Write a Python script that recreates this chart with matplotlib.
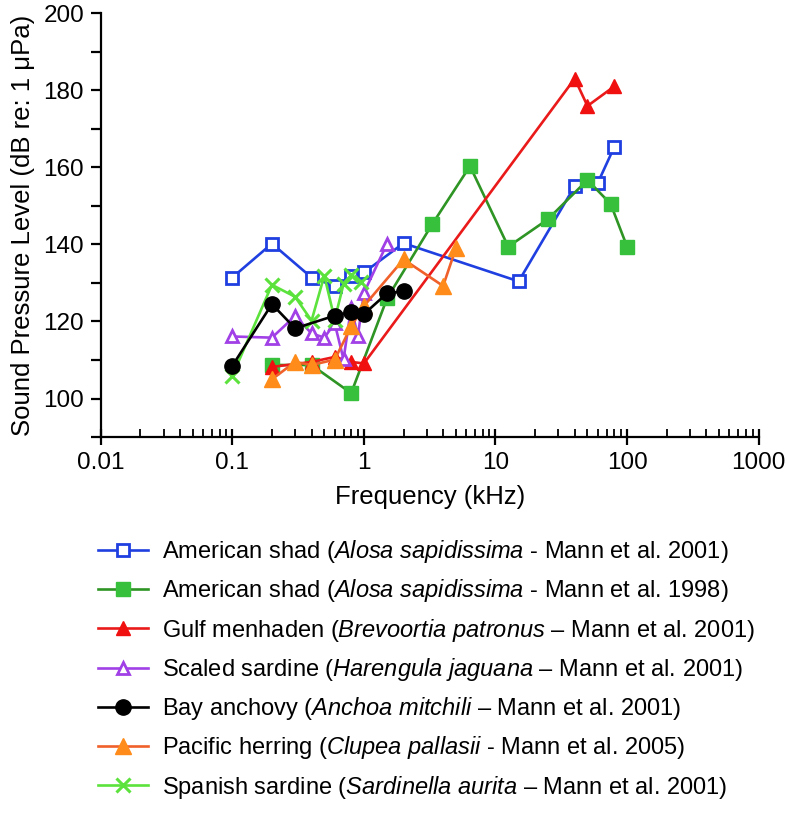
import matplotlib
matplotlib.use("Agg")
import matplotlib.pyplot as plt
from matplotlib.ticker import LogLocator, FixedLocator, NullFormatter, FuncFormatter

plt.rcParams['font.family'] = ['Liberation Sans', 'DejaVu Sans']
plt.rcParams['mathtext.fontset'] = 'custom'
plt.rcParams['mathtext.rm'] = 'Liberation Sans'
plt.rcParams['mathtext.it'] = 'Liberation Sans:italic'

# ---- data (frequency in kHz, SPL in dB re: 1 uPa) ----
shad01_x = [0.1, 0.2, 0.4, 0.6, 0.8, 1.0, 2.0, 15, 40, 60, 80]
shad01_y = [131.4, 140.2, 131.4, 129.2, 131.8, 132.7, 140.3, 130.4, 155.1, 156.0, 165.3]

shad98_x = [0.2, 0.4, 0.8, 1.5, 3.3, 6.4, 12.5, 25, 50, 75, 100]
shad98_y = [108.7, 108.7, 101.4, 126.0, 145.2, 160.3, 139.4, 146.5, 156.7, 150.5, 139.4]

menhaden_x = [0.2, 0.4, 0.6, 0.8, 1.0, 40, 50, 80]
menhaden_y = [108.2, 109.5, 110.8, 109.5, 109.1, 183.0, 175.9, 181.0]

scaled_x = [0.1, 0.2, 0.3, 0.4, 0.5, 0.6, 0.7, 0.8, 0.9, 1.0, 1.5]
scaled_y = [116.1, 115.8, 121.4, 116.9, 115.8, 119.5, 110.2, 123.6, 116.3, 127.4, 140.2]

anchovy_x = [0.1, 0.2, 0.3, 0.6, 0.8, 1.0, 1.5, 2.0]
anchovy_y = [108.5, 124.5, 118.2, 121.5, 122.5, 121.9, 127.3, 127.8]

herring_x = [0.2, 0.3, 0.4, 0.6, 0.8, 1.0, 2.0, 4.0, 5.0]
herring_y = [105.0, 109.5, 108.7, 110.1, 118.7, 124.0, 136.1, 129.2, 139.0]

spanish_x = [0.1, 0.2, 0.3, 0.4, 0.5, 0.6, 0.7, 0.8, 0.95]
spanish_y = [105.9, 129.5, 126.4, 120.2, 131.9, 120.5, 129.7, 132.0, 130.3]

labels = [
    r"American shad ($\mathit{Alosa\ sapidissima}$ - Mann et al. 2001)",
    r"American shad ($\mathit{Alosa\ sapidissima}$ - Mann et al. 1998)",
    r"Gulf menhaden ($\mathit{Brevoortia\ patronus}$ – Mann et al. 2001)",
    r"Scaled sardine ($\mathit{Harengula\ jaguana}$ – Mann et al. 2001)",
    r"Bay anchovy ($\mathit{Anchoa\ mitchili}$ – Mann et al. 2001)",
    r"Pacific herring ($\mathit{Clupea\ pallasii}$ - Mann et al. 2005)",
    r"Spanish sardine $\mathit{(Sardinella\ aurita}$ – Mann et al. 2001)",
]

x_ticks = [0.01, 0.1, 1, 10, 100, 1000]
y_ticks = [100, 120, 140, 160, 180, 200]

fig = plt.figure(figsize=(7.87, 8.17), dpi=100)
ax = fig.add_axes([0.128, 0.465, 0.836, 0.519])

lw = 1.9
h1, = ax.plot(shad01_x, shad01_y, color='#1f3fe0', lw=lw, marker='s', ms=8.5,
              mfc='white', mec='#1f3fe0', mew=2.0, zorder=3)
h2, = ax.plot(shad98_x, shad98_y, color='#2e9424', lw=lw, marker='s', ms=10,
              mfc='#36c03c', mec='#36c03c', zorder=3)
h3, = ax.plot(menhaden_x, menhaden_y, color='#ea1a1a', lw=lw, marker='^', ms=10,
              mfc='#f01010', mec='#f01010', zorder=3)
h4, = ax.plot(scaled_x, scaled_y, color='#a040e6', lw=lw, marker='^', ms=9,
              mfc='white', mec='#a040e6', mew=2.0, zorder=3)
h5, = ax.plot(anchovy_x, anchovy_y, color='black', lw=lw, marker='o', ms=11,
              mfc='black', mec='black', zorder=4)
h6, = ax.plot(herring_x, herring_y, color='#f0602a', lw=lw, marker='^', ms=11,
              mfc='#ff8c1a', mec='#ff8c1a', zorder=3)
h7, = ax.plot(spanish_x, spanish_y, color='#5ce23c', lw=lw, marker='x', ms=10,
              mec='#5ce23c', mew=2.2, zorder=3)

ax.set_xscale('log')
ax.set_xlim(0.01, 1000)
ax.set_ylim(90, 200)

ax.xaxis.set_major_locator(FixedLocator(x_ticks))
ax.xaxis.set_major_formatter(FuncFormatter(lambda v, p: f"{v:g}"))
ax.xaxis.set_minor_locator(LogLocator(base=10, subs=range(2, 10), numticks=20))
ax.xaxis.set_minor_formatter(NullFormatter())
ax.yaxis.set_major_locator(FixedLocator(y_ticks))
ax.yaxis.set_minor_locator(FixedLocator([90, 110, 130, 150, 170, 190]))

for s in ['top', 'right']:
    ax.spines[s].set_visible(False)
for s in ['left', 'bottom']:
    ax.spines[s].set_linewidth(1.6)

ax.tick_params(axis='x', which='major', direction='inout', length=11, width=1.6,
               labelsize=17.5, pad=5)
ax.tick_params(axis='x', which='minor', direction='in', length=6, width=1.3)
ax.tick_params(axis='y', which='both', direction='out', length=7, width=1.6,
               labelsize=17.5, pad=5)

ax.set_xlabel("Frequency (kHz)", fontsize=18.5, labelpad=8)
ax.set_ylabel("Sound Pressure Level (dB re: 1 μPa)", fontsize=18.5, labelpad=6)

fig.legend([h1, h2, h3, h4, h5, h6, h7], labels, loc='upper left',
           bbox_to_anchor=(0.113, 0.353), frameon=False, fontsize=17,
           handlelength=2.1, handletextpad=0.6, labelspacing=0.52,
           borderaxespad=0)

fig.savefig("out.png", dpi=100)
